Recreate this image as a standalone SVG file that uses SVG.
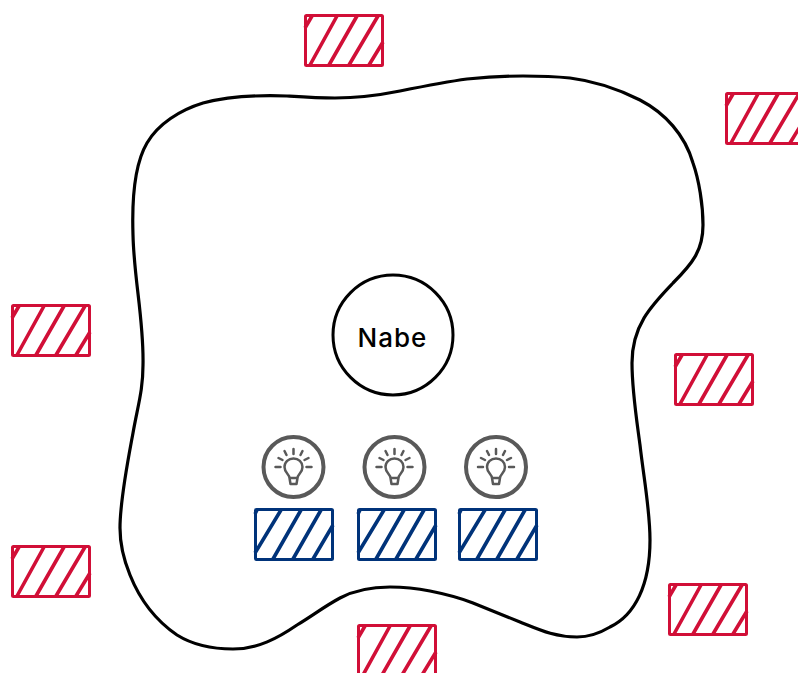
<svg xmlns="http://www.w3.org/2000/svg" width="798" height="673" viewBox="0 0 798 673">
<style>
.fr{fill:none;stroke-width:3;stroke-linejoin:round}
.ha{fill:none;stroke-width:3.600}
.red{stroke:#d10f37}
.blue{stroke:#00337a}
.blob{fill:none;stroke:#000;stroke-width:3.200}
.ic{fill:none;stroke:#595959}
.ring{stroke-width:4}
.g{stroke-width:2.500;stroke-linecap:round;stroke-linejoin:round}
text{font-family:"Inter","Open Sans",sans-serif;font-size:26px;font-weight:500;letter-spacing:1px;fill:#000}
</style>
<defs>
<g id="hr" class="red">
<rect class="fr" x="0.500" y="0.500" width="77" height="50" rx="1"/>
<path class="ha" d="M7 1 L0 13 M32 1 L5 50 M52 1 L24 50 M73 1 L44 50 M78 27 L64 50"/>
</g>
<g id="hb" class="blue">
<rect class="fr" x="0.500" y="0.500" width="77" height="50" rx="1"/>
<path class="ha" d="M2 1 L0 5 M26 1 L0 44 M46 1 L18 50 M66 1 L38 50 M78 16 L58 50"/>
</g>
<g id="bulb" class="ic">
<circle class="ring" cx="0" cy="0" r="30"/>
<path class="g" d="M-4 11 C-4 7 -9 6 -9 0 C-9 -5 -5 -8.500 0 -8.500 C5 -8.500 9 -5 9 0 C9 6 4 7 4 11 Z M-4 11 L-3 17 H3 L4 11 M0 -18 V-13 M-9 -16 L-7 -12 M9 -16 L7 -12 M-15 -9 L-11 -7 M15 -9 L11 -7 M-18 0 H-13 M18 0 H13"/>
</g>
</defs>
<g id="connectors"/>
<g id="area"><path class="blob" d="M133 235 C132 205 134 165 147 143 C158 124 180 110 203 103 C230 96 260 95 287 96 C303 97 318 98 335 98 C360 98 380 95 400 91 C425 86 445 82 467 79 C487 77 505 76 523 76 C540 76 555 76.500 570 78 C595 81 618 89 640 100 C665 113 685 135 693 163 C699 180 703 205 703 225 C703 250 693 263 673 283 C652 305 632 325 632 363 C632 390 636 415 640 445 C644 480 650 510 650 540 C650 585 635 615 610 627 C600 633 590 637 577 637 C555 637 540 630 520 622 C505 616 490 610 473 603 C458 597 445 594 430 591 C415 588 403 587 390 587 C372 587 355 590 340 598 C325 606 312 616 297 625 C278 638 258 649 233 649 C212 649 193 645 177 635 C155 620 140 600 130 575 C123 558 120 545 120 528 C120 500 128 460 133 433 C138 405 143 390 143 365 C144 320 134 280 133 235 Z"/></g>
<g id="hub"><circle cx="393" cy="335" r="60" fill="none" stroke="#000" stroke-width="3"/><text x="392.500" y="347" text-anchor="middle">Nabe</text></g>
<g id="red1"><use href="#hr" x="305" y="15"/></g>
<g id="red2"><use href="#hr" x="726" y="93"/></g>
<g id="red3"><use href="#hr" x="12" y="305"/></g>
<g id="red4"><use href="#hr" x="675" y="354"/></g>
<g id="red5"><use href="#hr" x="12" y="546"/></g>
<g id="red6"><use href="#hr" x="669" y="584"/></g>
<g id="red7"><use href="#hr" x="358" y="625"/></g>
<g id="blue1"><use href="#hb" x="255" y="509"/></g>
<g id="blue2"><use href="#hb" x="358" y="509"/></g>
<g id="blue3"><use href="#hb" x="459" y="509"/></g>
<g id="lamp1"><use href="#bulb" x="293.500" y="467"/></g>
<g id="lamp2"><use href="#bulb" x="394.500" y="467"/></g>
<g id="lamp3"><use href="#bulb" x="496" y="467"/></g>
</svg>
